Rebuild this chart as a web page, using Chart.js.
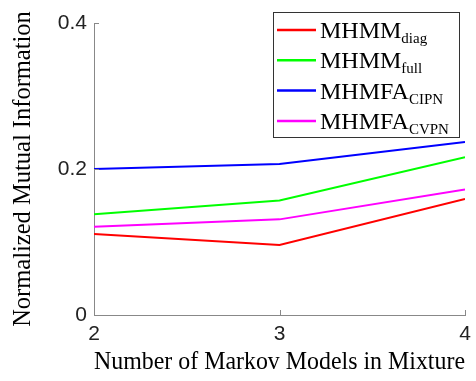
<!DOCTYPE html>
<html>
<head>
<meta charset="utf-8">
<script src="https://cdn.jsdelivr.net/npm/chart.js@4"></script>
<style>
  html, body { margin: 0; padding: 0; background: #fff; }
  #wrap { width: 476px; height: 381px; }
</style>
</head>
<body>
<div id="wrap"><canvas id="myChart" width="476" height="381"></canvas></div>
<script>
// data
const mixtures = [2, 3, 4];
const mhmmDiag = [0.111, 0.096, 0.159];
const mhmmFull = [0.138, 0.157, 0.216];
const mhmfaCipn = [0.200, 0.207, 0.237];
const mhmfaCvpn = [0.121, 0.131, 0.172];
const yTicks = [0, 0.2, 0.4];

// legend entries: main text + subscript
const legendItems = [
    { main: 'MHMM', sub: 'diag', color: '#ff0000' },
    { main: 'MHMM', sub: 'full', color: '#00ff00' },
    { main: 'MHMFA', sub: 'CIPN', color: '#0000ff' },
    { main: 'MHMFA', sub: 'CVPN', color: '#ff00ff' }
];

const toPoints = arr => arr.map((v, i) => ({ x: mixtures[i], y: v }));

// inward tick marks, like the original plot
const innerTicks = {
    id: 'innerTicks',
    afterDraw(chart) {
        const ctx = chart.ctx;
        const xs = chart.scales.x, ys = chart.scales.y;
        ctx.save();
        ctx.strokeStyle = '#888';
        ctx.lineWidth = 1;
        ctx.beginPath();
        mixtures.forEach(m => {
            const px = Math.round(xs.getPixelForValue(m)) + 0.5;
            ctx.moveTo(px, ys.bottom);
            ctx.lineTo(px, ys.bottom - 5);
        });
        yTicks.forEach(t => {
            const py = Math.round(ys.getPixelForValue(t)) + 0.5;
            ctx.moveTo(xs.left, py);
            ctx.lineTo(xs.left + 5, py);
        });
        ctx.stroke();
        ctx.restore();
    }
};

// legend with subscripts (the built-in one can't do that)
const subLegend = {
    id: 'subLegend',
    afterDraw(chart) {
        const ctx = chart.ctx;
        const bx = 273, by = 12, bw = 186, bh = 125;
        ctx.save();
        ctx.fillStyle = '#fff';
        ctx.fillRect(bx, by, bw, bh);
        ctx.strokeStyle = '#333';
        ctx.lineWidth = 1;
        ctx.strokeRect(bx + 0.5, by + 0.5, bw, bh);
        legendItems.forEach((it, i) => {
            const y = 30 + i * 30.3;
            ctx.strokeStyle = it.color;
            ctx.lineWidth = 2.5;
            ctx.beginPath();
            ctx.moveTo(277, y);
            ctx.lineTo(316, y);
            ctx.stroke();
            ctx.fillStyle = '#000';
            ctx.textBaseline = 'alphabetic';
            ctx.font = '24px "Liberation Serif"';
            ctx.fillText(it.main, 320, y + 8);
            const w = ctx.measureText(it.main).width;
            ctx.font = '15px "Liberation Serif"';
            ctx.fillText(it.sub, 320 + w, y + 13);
        });
        ctx.restore();
    }
};

const mk = (label, data, color) => ({
    label: label,
    data: toPoints(data),
    borderColor: color,
    backgroundColor: color,
    borderWidth: 2,
    pointRadius: 0,
    tension: 0
});

const ctx = document.getElementById('myChart').getContext('2d');
new Chart(ctx, {
    type: 'line',
    data: {
        datasets: [
            mk('MHMM diag', mhmmDiag, '#ff0000'),
            mk('MHMM full', mhmmFull, '#00ff00'),
            mk('MHMFA CIPN', mhmfaCipn, '#0000ff'),
            mk('MHMFA CVPN', mhmfaCvpn, '#ff00ff')
        ]
    },
    options: {
        responsive: false,
        animation: false,
        layout: { padding: { top: 23, right: 11, left: 0, bottom: 0 } },
        plugins: { legend: { display: false }, tooltip: { enabled: false } },
        scales: {
            x: {
                type: 'linear',
                min: 2, max: 4,
                afterFit: s => { s.height = 66; s.paddingLeft = 0; s.paddingRight = 0; },
                afterBuildTicks: s => { s.ticks = mixtures.map(v => ({ value: v })); },
                grid: { display: false, drawTicks: false },
                border: { display: true, color: '#888', width: 1 },
                ticks: {
                    padding: 7,
                    color: '#222',
                    font: { family: '"Liberation Sans"', size: 21 },
                    callback: v => String(v)
                },
                title: {
                    display: true,
                    text: 'Number of Markov Models in Mixture',
                    color: '#000',
                    font: { family: '"Liberation Serif"', size: 25 },
                    padding: { top: 1 }
                }
            },
            y: {
                min: 0, max: 0.4,
                afterFit: s => { s.width = 94; s.paddingTop = 0; s.paddingBottom = 0; },
                afterBuildTicks: s => { s.ticks = yTicks.map(v => ({ value: v })); },
                grid: { display: false, drawTicks: false },
                border: { display: true, color: '#888', width: 1 },
                ticks: {
                    padding: 7,
                    color: '#222',
                    font: { family: '"Liberation Sans"', size: 21 },
                    callback: v => (v === 0 ? '0' : v.toFixed(1))
                },
                title: {
                    display: true,
                    text: 'Normalized Mutual Information',
                    color: '#000',
                    font: { family: '"Liberation Serif"', size: 24.5 },
                    padding: { bottom: 0, top: 9 }
                }
            }
        }
    },
    plugins: [innerTicks, subLegend]
});
</script>
</body>
</html>
